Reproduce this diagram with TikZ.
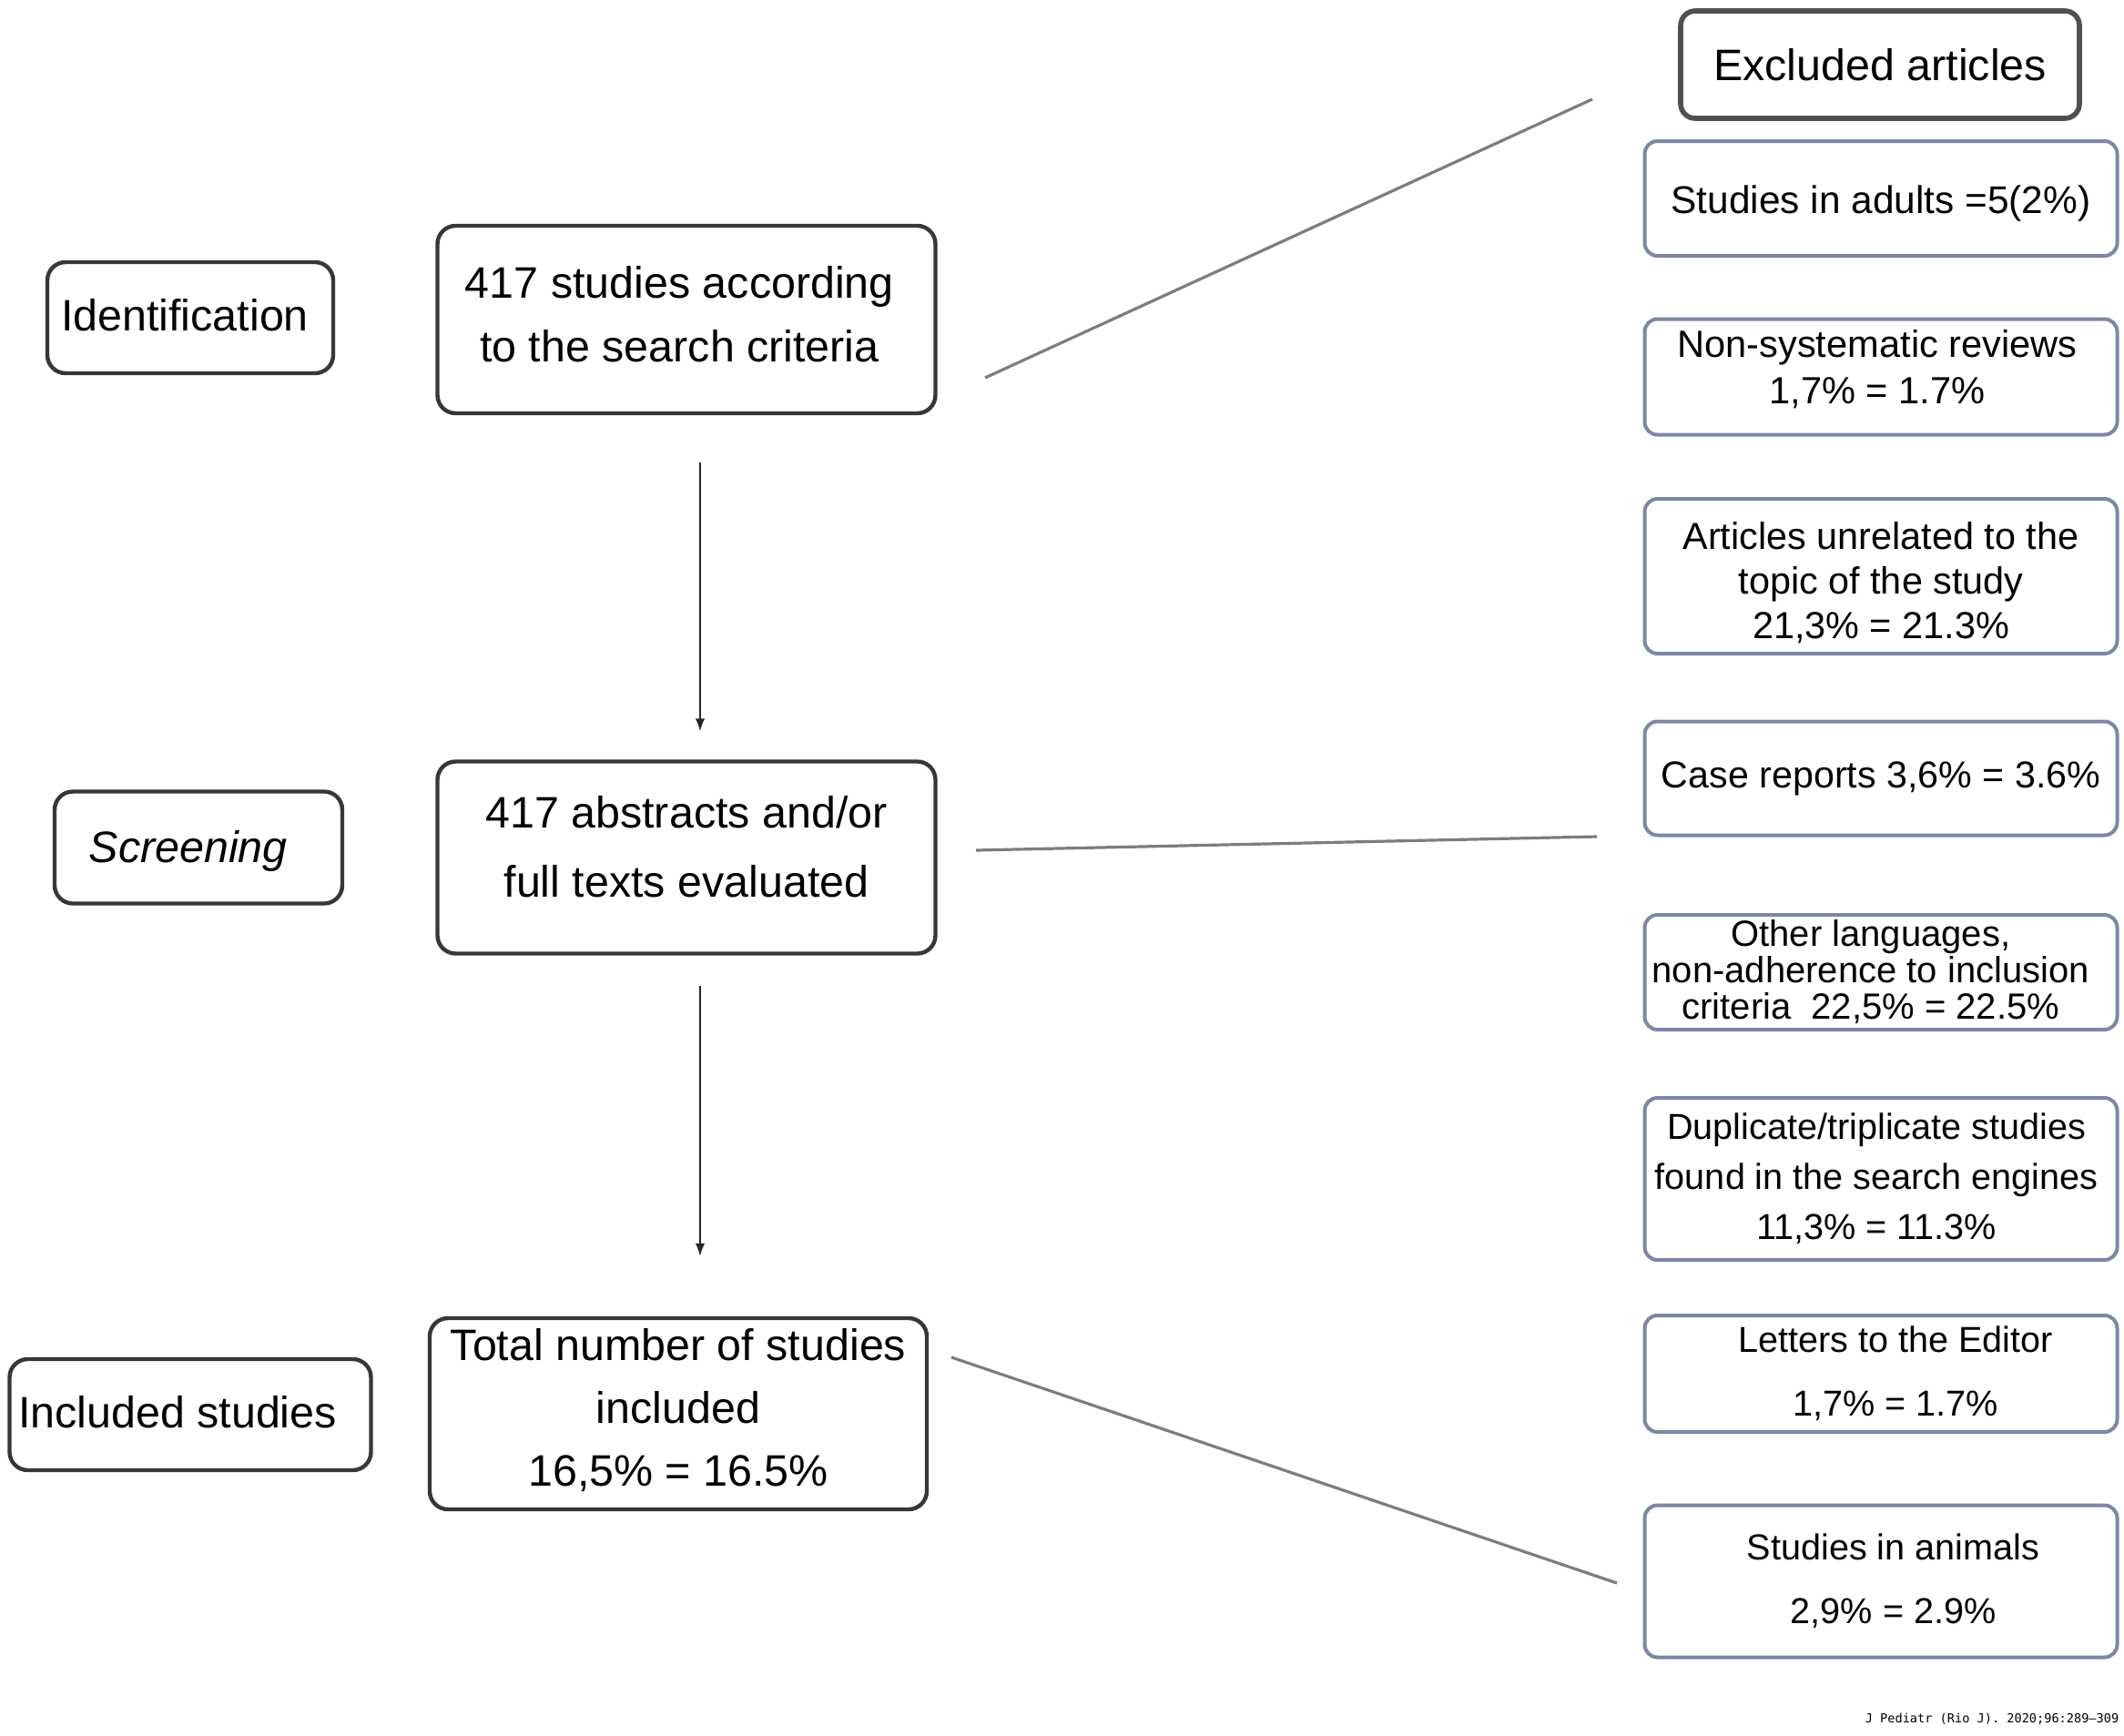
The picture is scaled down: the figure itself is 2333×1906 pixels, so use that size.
\documentclass[tikz,border=0pt]{standalone}
\usepackage{fontspec}
\setmainfont{Liberation Sans}
\newfontfamily\footfont{DejaVu Sans Mono}
\usetikzlibrary{arrows.meta}
\definecolor{rbord}{RGB}{125,135,165}
\definecolor{lbord}{RGB}{55,55,55}
\definecolor{xbord}{RGB}{80,80,80}
\definecolor{gline}{RGB}{125,125,125}
\begin{document}
\begin{tikzpicture}[x=0.25pt,y=-0.25pt,
  lbox/.style={draw=lbord,line width=1.1pt,rounded corners=5pt,inner sep=0pt},
  rbox/.style={draw=rbord,line width=1pt,rounded corners=3.5pt,inner sep=0pt,minimum width=129.75pt},
  xbox/.style={draw=xbord,line width=1.4pt,rounded corners=4pt,inner sep=0pt},
  ltxt/.style={align=center,inner sep=0pt,font=\fontsize{12.1}{17.5}\selectfont},
  rtxt/.style={align=center,inner sep=0pt,font=\fontsize{10}{13}\selectfont},
  arr/.style={draw=black!85,line width=0.4pt,-{Latex[length=3.5pt,width=2.6pt]}},
  gl/.style={draw=gline,line width=0.8pt}
]
\useasboundingbox (0,0) rectangle (2333,1906);

% left column
\node[lbox,minimum width=78.5pt,minimum height=30.5pt] (ident) at (209,349) {};
\node[ltxt] (identt) at ([xshift=-1.5pt,yshift=0.7pt]ident.center) {Identification};
\node[lbox,minimum width=79pt,minimum height=30.75pt] (screen) at (218,931) {};
\node[ltxt] (screent) at ([xshift=-2.8pt,yshift=-1pt]screen.center) {\itshape Screening};
\node[lbox,minimum width=99.25pt,minimum height=30.5pt] (incl) at (209,1554) {};
\node[ltxt] (inclt) at ([xshift=-3.5pt,yshift=0.7pt]incl.center) {Included studies};

% middle column
\node[lbox,minimum width=136.75pt,minimum height=51.5pt] (b1) at (754,351) {};
\node[ltxt] (b1t) at ([xshift=-1.9pt,yshift=1.5pt]b1.center) {417 studies according\\to the search criteria};
\node[lbox,minimum width=136.75pt,minimum height=52.75pt] (b2) at (754,942) {};
\node[ltxt,font=\fontsize{12.1}{19}\selectfont] (b2t) at ([yshift=3pt]b2.center) {417 abstracts and/or\\full texts evaluated};
\node[lbox,minimum width=136.5pt,minimum height=52.5pt] (b3) at (745,1553) {};
\node[ltxt,font=\fontsize{12.1}{17.25}\selectfont] (b3t) at ([yshift=1pt]b3.center) {Total number of studies\\included\\16,5\% = 16.5\%};

% arrows
\draw[arr,shorten <=13pt,shorten >=7.75pt] ([xshift=3.75pt]b1.south) -- ([xshift=3.75pt]b2.north);
\draw[arr,shorten <=8.25pt,shorten >=16.5pt] ([xshift=3.75pt]b2.south) -- ([xshift=6pt]b3.north);

% right column
\node[xbox,minimum width=109.5pt,minimum height=29.5pt] (ex) at (2065,71) {};
\node[ltxt] (ext) at (ex.center) {Excluded articles};
\node[rbox,minimum height=31.5pt] (r1) at (2066,218) {};
\node[rtxt,font=\fontsize{10.6}{13}\selectfont] (r1t) at ([yshift=-1.5pt]r1.center) {Studies in adults =5(2\%)};
\node[rbox,minimum height=31.75pt] (r2) at (2066,414) {};
\node[rtxt,font=\fontsize{10.4}{12.75}\selectfont] (r2t) at ([xshift=-1pt,yshift=2.2pt]r2.center) {Non-systematic reviews\\1,7\% = 1.7\%};
\node[rbox,minimum height=42.5pt] (r3) at (2066,633) {};
\node[rtxt,font=\fontsize{10.35}{12.25}\selectfont] (r3t) at ([yshift=-1.7pt]r3.center) {Articles unrelated to the\\topic of the study\\21,3\% = 21.3\%};
\node[rbox,minimum height=31.25pt] (r4) at (2066,855) {};
\node[rtxt,font=\fontsize{10.3}{13}\selectfont] (r4t) at (r4.center) {Case reports 3,6\% = 3.6\%};
\node[rbox,minimum height=31.5pt] (r5) at (2066,1068) {};
\node[rtxt,font=\fontsize{10}{10}\selectfont] (r5t) at ([xshift=-2.8pt]r5.center) {Other languages,\\non-adherence to inclusion\\criteria\ \ 22,5\% = 22.5\%};
\node[rbox,minimum height=44.5pt] (r6) at (2066,1295) {};
\node[rtxt,font=\fontsize{9.9}{13.75}\selectfont] (r6t) at ([xshift=-1.2pt]r6.center) {Duplicate/triplicate studies\\found in the search engines\\11,3\% = 11.3\%};
\node[rbox,minimum height=32pt] (r7) at (2066,1509) {};
\node[rtxt,font=\fontsize{9.9}{17.5}\selectfont] (r7t) at ([xshift=4pt]r7.center) {Letters to the Editor\\1,7\% = 1.7\%};
\node[rbox,minimum height=41.75pt] (r8) at (2066,1737) {};
\node[rtxt,font=\fontsize{9.9}{17.5}\selectfont] (r8t) at ([xshift=3.4pt]r8.center) {Studies in animals\\2,9\% = 2.9\%};

% grey lines
\coordinate (g1a) at (1082,415);
\coordinate (g1b) at (1749,109);
\coordinate (g2a) at (1072,934);
\coordinate (g2b) at (1754,919);
\coordinate (g3a) at (1045,1491);
\coordinate (g3b) at (1776,1739);
\draw[gl] (g1a) -- (g1b);
\draw[gl] (g2a) -- (g2b);
\draw[gl] (g3a) -- (g3b);

% footer
\node[anchor=east,inner sep=0pt,font=\footfont\fontsize{3.4}{4}\selectfont] (foot) at (2328,1888) {J Pediatr (Rio J). 2020;96:289–309};
\end{tikzpicture}
\end{document}
